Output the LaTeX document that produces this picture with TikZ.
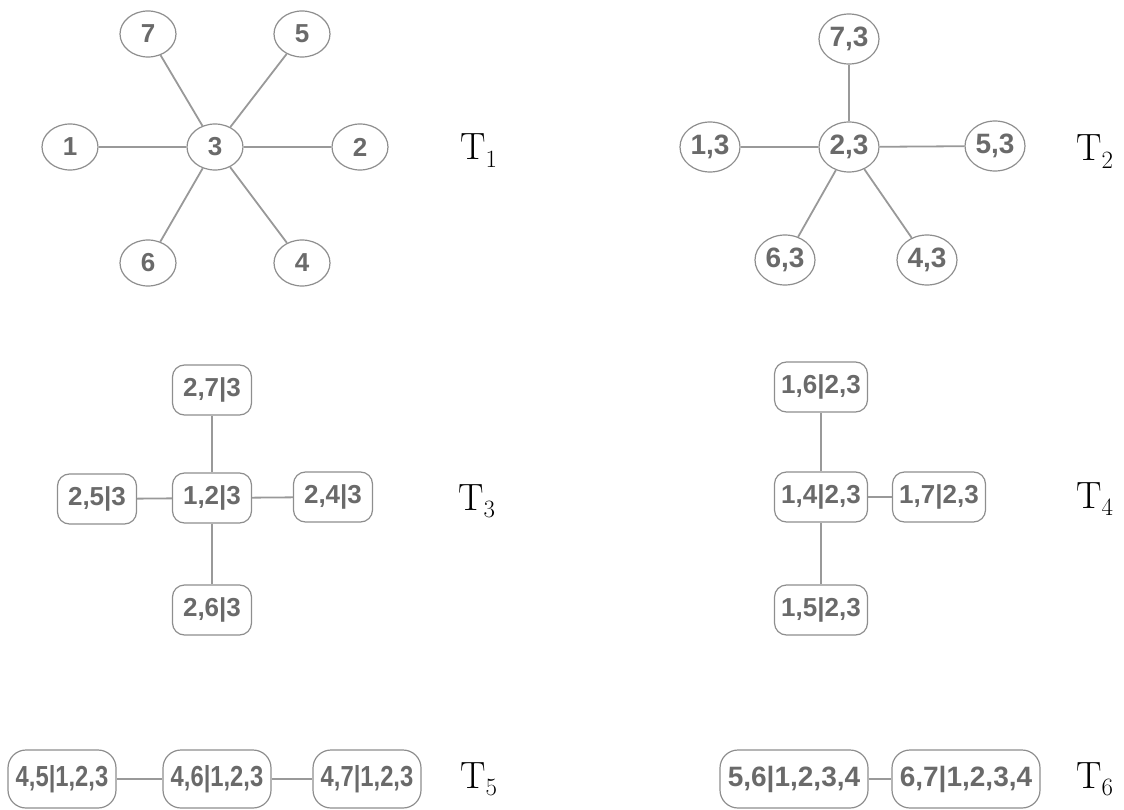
\documentclass[tikz,border=0pt]{standalone}
\usepackage{fontspec}
\usepackage{xcolor}
\usepackage{amsmath}
\setsansfont{Liberation Sans}
\newfontfamily\narrowfont[FakeStretch=0.82]{Liberation Sans}
\usepackage{tikz}
\usetikzlibrary{shapes.geometric}
\definecolor{txtgray}{HTML}{6A6A6A}
\definecolor{bordgray}{HTML}{8E8E8E}
\definecolor{edgegray}{HTML}{999999}

\begin{document}
\begin{tikzpicture}[x=1pt,y=-1pt]

\tikzset{vert/.style={
    ellipse, draw=bordgray, line width=1.2pt, inner sep=0pt,
    minimum width=56pt, minimum height=46pt, text=txtgray,
    font=\sffamily\bfseries\fontsize{26}{26}\selectfont
  },
  pair/.style={vert, minimum width=60pt, minimum height=50pt,
    font=\sffamily\bfseries\fontsize{28}{28}\selectfont},
  sep/.style={
    rectangle, rounded corners=12pt, draw=bordgray, line width=1.2pt,
    inner sep=0pt, minimum height=50pt, minimum width=#1, text=txtgray,
    font=\sffamily\bfseries\fontsize{26}{26}\selectfont
  }, sep/.default=79pt,
  widesep/.style={sep=#1, rounded corners=18pt, minimum height=58pt},
  tlabel/.style={anchor=base west, inner sep=0pt,
    font=\fontsize{38}{40}\selectfont},
  link/.style={draw=edgegray, line width=1.8pt}
}
\useasboundingbox (0,0) rectangle (1124,810);

% T1
\node[vert] (t13) at (215,147) {3};
\foreach \name/\x/\y in {7/148/34, 5/302/34, 1/70/147, 2/360/147, 6/148/263, 4/302/263}
  {\node[vert] (t1\name) at (\x,\y) {\name};
   \draw[link] (t13) -- (t1\name);}
\node[tlabel] (lab1) at (460,160) {$\mathrm{T}_1$};

% T2
\node[pair] (t223) at (849,147) {2,3};
\node[pair] (t273) at (849,39) {7,3};
\node[pair] (t213) at (710,147) {1,3};
\node[pair] (t253) at (995,146) {5,3};
\node[pair] (t263) at (785,260) {6,3};
\node[pair] (t243) at (927,260) {4,3};
\foreach \leaf in {t273,t213,t253,t263,t243}
  \draw[link] (t223) -- (\leaf);
\node[tlabel] (lab2) at (1076,161) {$\mathrm{T}_2$};

% T3
\node[sep] (t312) at (212,498) {1,2|3};
\node[sep] (t327) at (212,390) {2,7|3};
\node[sep] (t325) at (97,499) {2,5|3};
\node[sep] (t324) at (333,497) {2,4|3};
\node[sep] (t326) at (212,610) {2,6|3};
\foreach \leaf in {t327,t325,t324,t326}
  \draw[link] (t312) -- (\leaf);
\node[tlabel] (lab3) at (458,510) {$\mathrm{T}_3$};

% T4
\node[sep=93pt] (t414) at (821,497) {1,4|2,3};
\node[sep=93pt] (t416) at (821,387) {1,6|2,3};
\node[sep=93pt] (t417) at (939,497) {1,7|2,3};
\node[sep=93pt] (t415) at (821,610) {1,5|2,3};
\foreach \leaf in {t416,t417,t415}
  \draw[link] (t414) -- (\leaf);
\node[tlabel] (lab4) at (1076,508) {$\mathrm{T}_4$};

% T5
\node[widesep=108pt, font=\narrowfont\bfseries\fontsize{29}{29}\selectfont] (t545) at (62,779) {4,5|1,2,3};
\node[widesep=108pt, font=\narrowfont\bfseries\fontsize{29}{29}\selectfont] (t546) at (217,779) {4,6|1,2,3};
\node[widesep=108pt, font=\narrowfont\bfseries\fontsize{29}{29}\selectfont] (t547) at (367,779) {4,7|1,2,3};
\draw[link] (t545) -- (t546) -- (t547);
\node[tlabel] (lab5) at (460,788) {$\mathrm{T}_5$};

% T6
\node[widesep=148pt, font=\sffamily\bfseries\fontsize{28}{28}\selectfont] (t656) at (794,779) {5,6|1,2,3,4};
\node[widesep=148pt, font=\sffamily\bfseries\fontsize{28}{28}\selectfont] (t667) at (966,779) {6,7|1,2,3,4};
\draw[link] (t656) -- (t667);
\node[tlabel] (lab6) at (1076,788) {$\mathrm{T}_6$};

\end{tikzpicture}
\end{document}
